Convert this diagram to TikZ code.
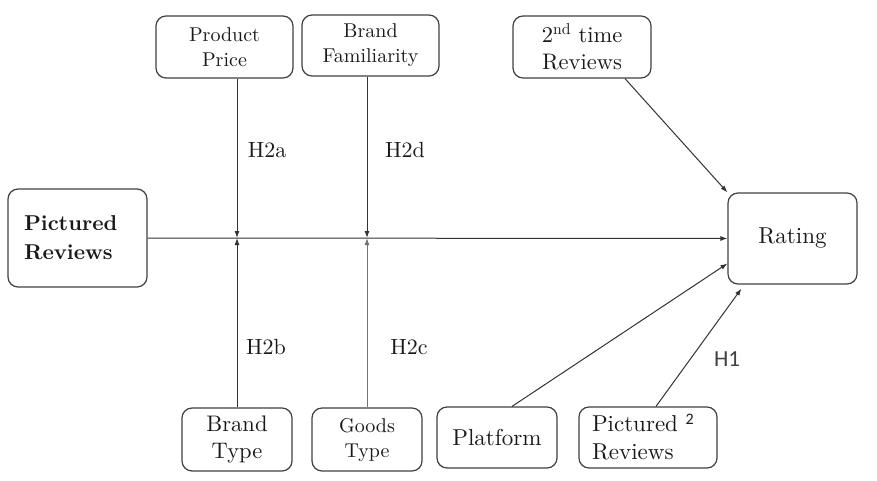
\documentclass[tikz,border=0pt]{standalone}
\usepackage{fontspec}
\IfFontExistsTF{lmroman10-regular.otf}
  {\setmainfont{lmroman10-regular.otf}[BoldFont=lmroman10-bold.otf]}
  {}
\newfontfamily\carlito{Carlito}
\usetikzlibrary{arrows.meta}

\begin{document}
\begin{tikzpicture}[x=1pt,y=-1pt,
  var/.style={draw=black!75,line width=1.2pt,rounded corners=10pt,inner sep=0pt,
    align=center,text=black!90,font=\fontsize{22.5}{27}\selectfont},
  small/.style={font=\fontsize{20}{25}\selectfont},
  link/.style={line width=1pt,draw=black!80,-{Latex[length=7pt,width=5pt]}},
  hyp/.style={text=black!90,font=\fontsize{22}{27}\selectfont}]
  \useasboundingbox (0,0) rectangle (877,481);
  % the variables
  \node[var,small,minimum width=137,minimum height=62] (price) at (224.5,47) {Product\\Price};
  \node[var,small,minimum width=137,minimum height=61] (famil) at (370.5,45.5) {Brand\\Familiarity};
  \node[var,minimum width=138,minimum height=62] (second) at (582,47) {2\textsuperscript{nd} time\\Reviews};
  \node[var,minimum width=139,minimum height=98,text width=107,align=left,
        font=\fontsize{21.5}{29}\selectfont\bfseries] (pict) at (77.5,238) {Pictured\\Reviews};
  \node[var,minimum width=129,minimum height=91,font=\fontsize{23}{29}\selectfont] (rating) at (792.5,238.5) {Rating};
  \node[var,minimum width=110,minimum height=63] (btype) at (237,439.5) {Brand\\Type};
  \node[var,small,minimum width=110,minimum height=63] (gtype) at (367,439.5) {Goods\\Type};
  \node[var,minimum width=120,minimum height=61,font=\fontsize{23}{29}\selectfont] (platf) at (497,437.5) {Platform};
  \node[var,minimum width=138,minimum height=61,text width=112,align=left,
        font=\fontsize{23}{28}\selectfont] (pict2) at (648,437.5)
        {Pictured \raisebox{7pt}{\carlito\fontsize{16}{16}\selectfont 2}\\Reviews};
  % junctions on the main path
  \coordinate (ja) at (btype.north |- pict.east);
  \coordinate (jb) at (gtype.north |- pict.east);
  % connectors
  \draw[link] (pict.east) -- (rating.west);
  \draw[link] (ja |- price.south) -- (ja);
  \draw[link] (btype.north) -- (ja);
  \draw[link] (jb |- famil.south) -- (jb);
  \draw[link,draw=black!55] (gtype.north) -- (jb);
  \draw[link] ([xshift=43pt]second.south) -- (rating.north west);
  \draw[link] ([xshift=15pt]platf.north) -- ([yshift=-25pt]rating.west);
  \draw[link] ([xshift=8pt]pict2.north) -- ([xshift=14pt,yshift=-4pt]rating.south west);
  % hypothesis labels
  \node[hyp] (h2a) at (267,150) {H2a};
  \node[hyp] (h2d) at (405,150) {H2d};
  \node[hyp] (h2b) at (266,347) {H2b};
  \node[hyp] (h2c) at (409,347) {H2c};
  \node[hyp,text=black!75,font=\carlito\fontsize{23}{27}\selectfont] (h1) at (727,359) {H1};
\end{tikzpicture}
\end{document}
